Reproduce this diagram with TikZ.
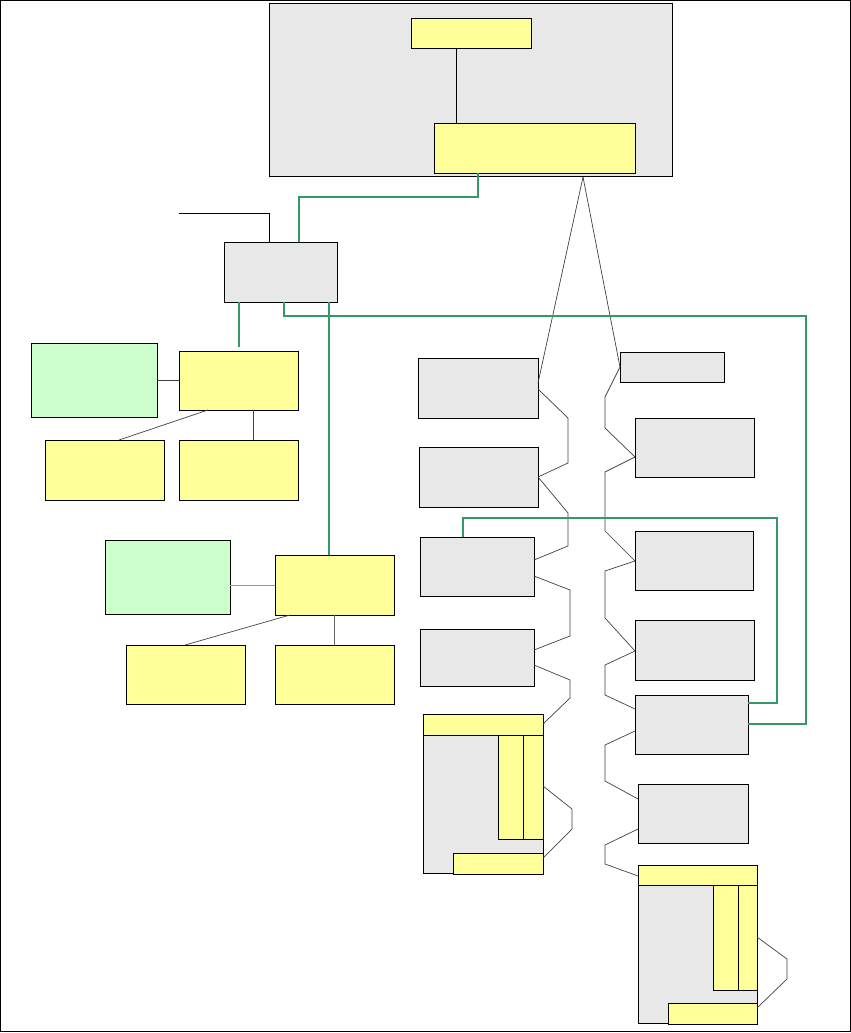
\documentclass[tikz,border=0pt]{standalone}
\usepackage{tikz}
\usepackage{xcolor}
\definecolor{panelgray}{HTML}{E8E8E8}
\definecolor{noteyellow}{HTML}{FFFF99}
\definecolor{palegreen}{HTML}{CCFFCC}
\definecolor{busgreen}{HTML}{339966}

\begin{document}
\begin{tikzpicture}[x=1pt, y=-1pt,
    every node/.style={anchor=north west, inner sep=0pt, outer sep=0pt, draw=black, line width=0.9pt},
    gbox/.style={fill=panelgray},
    ybox/.style={fill=noteyellow},
    pbox/.style={fill=palegreen},
    link/.style={draw=black!75, line width=0.7pt},
    bus/.style={draw=busgreen, line width=2.2pt}]
    \useasboundingbox (0,0) rectangle (851,1033);
    \draw[line width=1.2pt] (0.6,0.6) rectangle (850.2,1031.6);
    % top panel
    \node[gbox, minimum width=403pt, minimum height=173pt] (ctrl) at (269,3) {};
    \node[ybox, minimum width=120pt, minimum height=30pt] (top) at (411,18) {};
    \node[ybox, minimum width=201pt, minimum height=50pt] (core) at (434,123) {};
    \node[gbox, minimum width=113pt, minimum height=60pt] (hub) at (224,242) {};
    % left groups
    \node[pbox, minimum width=126pt, minimum height=74pt] (gA) at (31,343) {};
    \node[ybox, minimum width=119pt, minimum height=59pt] (yA) at (179,351) {};
    \node[ybox, minimum width=119pt, minimum height=60pt] (yA1) at (45,440) {};
    \node[ybox, minimum width=119pt, minimum height=60pt] (yA2) at (179,440) {};
    \node[pbox, minimum width=125pt, minimum height=74pt] (gB) at (105,540) {};
    \node[ybox, minimum width=119pt, minimum height=60pt] (yB) at (275,555) {};
    \node[ybox, minimum width=119pt, minimum height=59pt] (yB1) at (126,645) {};
    \node[ybox, minimum width=119pt, minimum height=59pt] (yB2) at (275,645) {};
    % left column
    \node[gbox, minimum width=120pt, minimum height=60pt] (L1) at (418,358) {};
    \node[gbox, minimum width=119pt, minimum height=60pt] (L2) at (419,447) {};
    \node[gbox, minimum width=114pt, minimum height=59pt] (L3) at (420,537) {};
    \node[gbox, minimum width=114pt, minimum height=57pt] (L4) at (420,629) {};
    \node[gbox, minimum width=120pt, minimum height=159pt] (L5) at (423,714) {};
    \node[ybox, minimum width=120pt, minimum height=21pt] (L5top) at (423,714) {};
    \node[ybox, minimum width=25pt, minimum height=104pt] (L5v1) at (498,735) {};
    \node[ybox, minimum width=20pt, minimum height=104pt] (L5v2) at (523,735) {};
    \node[ybox, minimum width=90pt, minimum height=21pt] (L5bot) at (453,853) {};
    % right column
    \node[gbox, minimum width=104pt, minimum height=30pt] (R1) at (620,352) {};
    \node[gbox, minimum width=119pt, minimum height=59pt] (R2) at (635,418) {};
    \node[gbox, minimum width=118pt, minimum height=59pt] (R3) at (635,531) {};
    \node[gbox, minimum width=119pt, minimum height=60pt] (R4) at (635,620) {};
    \node[gbox, minimum width=113pt, minimum height=59pt] (R5) at (635,695) {};
    \node[gbox, minimum width=110pt, minimum height=59pt] (R6) at (638,784) {};
    \node[gbox, minimum width=119pt, minimum height=158pt] (R7) at (638,865) {};
    \node[ybox, minimum width=119pt, minimum height=20pt] (R7top) at (638,865) {};
    \node[ybox, minimum width=25pt, minimum height=105pt] (R7v1) at (713,885) {};
    \node[ybox, minimum width=19pt, minimum height=105pt] (R7v2) at (738,885) {};
    \node[ybox, minimum width=89pt, minimum height=21pt] (R7bot) at (668,1003) {};

    \coordinate (feed) at (179,213);
    \coordinate (apex) at ([xshift=314pt,yshift=-1pt]ctrl.south west);

    \draw[black, line width=0.9pt] ([xshift=-15pt]top.south) -- ([xshift=-15pt]top.south |- core.north);
    \draw[black, line width=0.9pt] (feed) -| ([xshift=45pt]hub.north west);
    \draw[link] (gA.east |- yA.west) -- (yA.west);
    \draw[link] ([xshift=29pt]yA.south west) -- ([xshift=74pt]yA1.north west);
    \draw[link] ([xshift=74pt]yA.south west) -- ([xshift=74pt]yA2.north west);
    \draw[link, draw=black!40, line width=1pt] (gB.east |- yB.west) -- (yB.west);
    \draw[link] ([xshift=15pt]yB.south west) -- ([xshift=59pt]yB1.north west);
    \draw[link, draw=black!60] ([xshift=59pt]yB.south west) -- ([xshift=59pt]yB2.north west);

    % fan out to both columns
    \draw[link] (apex) -- ([yshift=-25pt]L1.north east);
    \draw[link] (apex) -- (R1.west);
    \draw[link] ([yshift=-31pt]L1.north east) -- (568,418) -- (568,463) -- ([yshift=-30pt]L2.north east);
    \draw[link] ([yshift=-30pt]L2.north east) -- (568,513) -- (568,546) -- ([yshift=-23pt]L3.north east);
    \draw[link] ([yshift=-39pt]L3.north east) -- (570,590) -- (570,636) -- ([yshift=-21pt]L4.north east);
    \draw[link] ([yshift=-36pt]L4.north east) -- (570,680) -- (570,698) -- ([yshift=-10pt]L5top.north east);
    \draw[link] ([yshift=-72pt]L5.north east) -- (572,809) -- (572,829) -- ([yshift=-5pt]L5bot.north east);
    \draw[link] (R1.west) -- (605,397) -- (605,428) -- ([yshift=-39pt]R2.north west);
    \draw[link] ([yshift=-39pt]R2.north west) -- (605,472) -- (605,531) -- ([yshift=-30pt]R3.north west);
    \draw[link] ([yshift=-30pt]R3.north west) -- (605,571) -- (605,618) -- ([yshift=-31pt]R4.north west);
    \draw[link] ([yshift=-31pt]R4.north west) -- (605,665) -- (605,695) -- ([yshift=-14pt]R5.north west);
    \draw[link] ([yshift=-36pt]R5.north west) -- (605,745) -- (605,781) -- ([yshift=-15pt]R6.north west);
    \draw[link] ([yshift=-45pt]R6.north west) -- (605,845) -- (605,864) -- ([yshift=-11pt]R7.north west);
    \draw[link] ([yshift=-72pt]R7.north east) -- (787,959) -- (787,979) -- ([yshift=-5pt]R7bot.north east);

    % green bus
    \draw[bus] ([xshift=44pt]core.south west) -- ++(0,24) -| ([xshift=75pt]hub.north west);
    \draw[bus, shorten >=4pt] ([xshift=15pt]hub.south west) -- ([xshift=15pt]hub.south west |- yA.north);
    \draw[bus] ([xshift=105pt]hub.south west) -- ([xshift=105pt]hub.south west |- yB.north);
    \draw[bus] ([xshift=60pt]hub.south west) -- ++(0,14) -- (806,316) |- ([yshift=-29pt]R5.north east);
    \draw[bus] ([xshift=43pt]L3.north west) -- ++(0,-19) -- (777,518) |- ([yshift=-8pt]R5.north east);
\end{tikzpicture}
\end{document}
